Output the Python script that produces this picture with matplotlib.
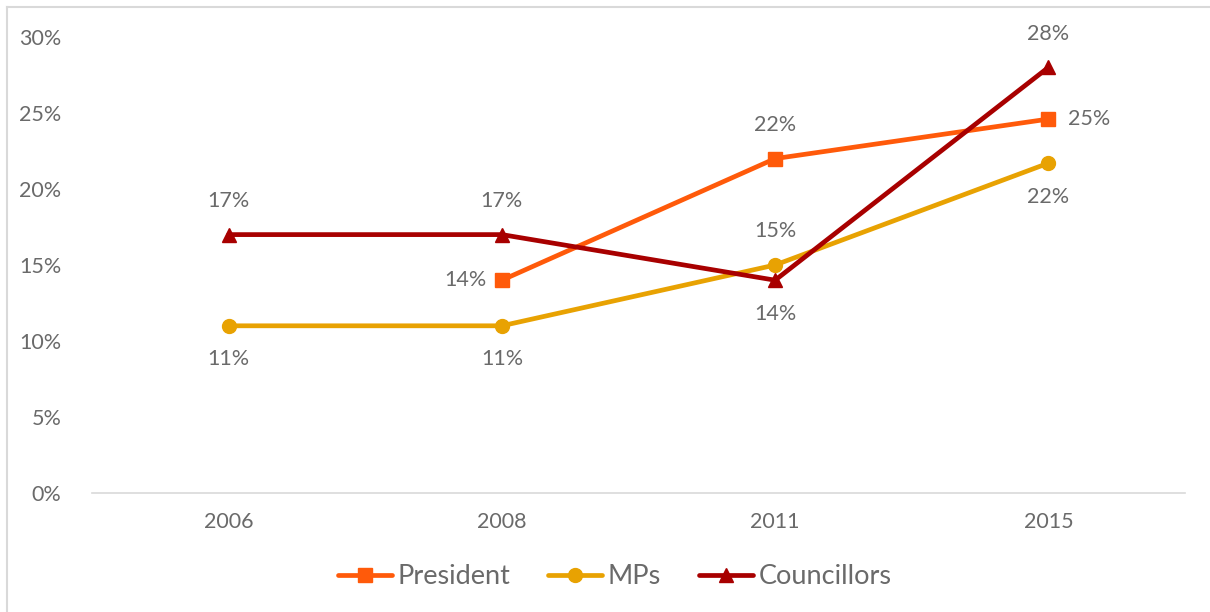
import matplotlib.pyplot as plt
from matplotlib.lines import Line2D

years = ['2006', '2008', '2011', '2015']
president = [None, 14, 22, 24.6]
mps = [11, 11, 15, 21.7]
councillors = [17, 17, 14, 28]

# where each data label goes relative to its point
president_pos = [None, 'left', 'above', 'right']
mps_pos = ['below', 'below', 'above', 'below']
councillors_pos = ['above', 'above', 'below', 'above']

grey = '#6A6A6A'
plt.rcParams['font.family'] = ['Lato', 'DejaVu Sans']

fig = plt.figure(figsize=(12.1, 6.12), dpi=100)
ax = fig.add_axes([92/1210, 1-493/612, (1185-92)/1210, (493-37)/612])

series = [
    ('President', president, president_pos, '#FF5A0A', 's'),
    ('MPs', mps, mps_pos, '#E8A202', 'o'),
    ('Councillors', councillors, councillors_pos, '#A80000', '^'),
]

fs = 15.5
for name, vals, pos, col, mk in series:
    xs = [i for i, v in enumerate(vals) if v is not None]
    ys = [v / 100 for v in vals if v is not None]
    ax.plot(xs, ys, color=col, lw=3.4, marker=mk, ms=10, label=name,
            solid_capstyle='round', zorder=3)
    for x, y, p in zip(xs, ys, [p for p in pos if p is not None]):
        txt = f'{y*100:.0f}%'
        if p == 'above':
            ax.annotate(txt, (x, y), xytext=(0, 17), textcoords='offset points',
                        ha='center', va='bottom', color=grey, fontsize=fs)
        elif p == 'below':
            ax.annotate(txt, (x, y), xytext=(0, -17), textcoords='offset points',
                        ha='center', va='top', color=grey, fontsize=fs)
        elif p == 'left':
            ax.annotate(txt, (x, y), xytext=(-11, 0), textcoords='offset points',
                        ha='right', va='center', color=grey, fontsize=fs)
        else:
            ax.annotate(txt, (x, y), xytext=(14, 0), textcoords='offset points',
                        ha='left', va='center', color=grey, fontsize=fs)

ax.set_xlim(-0.5, 3.5)
ax.set_ylim(0, 0.3)
ax.set_xticks(range(len(years)))
ax.set_xticklabels(years)
ax.set_yticks([0, 0.05, 0.1, 0.15, 0.2, 0.25, 0.3])
ax.set_yticklabels(['0%', '5%', '10%', '15%', '20%', '25%', '30%'])
ax.tick_params(axis='both', length=0, colors=grey, labelsize=fs)
ax.tick_params(axis='y', pad=22)
ax.tick_params(axis='x', pad=14)
for s in ['top', 'right', 'left']:
    ax.spines[s].set_visible(False)
ax.spines['bottom'].set_color('#D9D9D9')
ax.spines['bottom'].set_linewidth(1.2)

leg = fig.legend(loc='center', bbox_to_anchor=(0.508, 1-577/612), ncol=3,
                 frameon=False, fontsize=19.5, handlelength=2.0, handletextpad=0.2,
                 columnspacing=1.4)
for t in leg.get_texts():
    t.set_color(grey)

# light frame on the left and top edges
fig.add_artist(Line2D([7/1210, 7/1210], [0, 1-7/612], color='#D9D9D9', lw=1.5))
fig.add_artist(Line2D([7/1210, 1], [1-7/612, 1-7/612], color='#D9D9D9', lw=1.5))

fig.savefig('out.png', dpi=100)
